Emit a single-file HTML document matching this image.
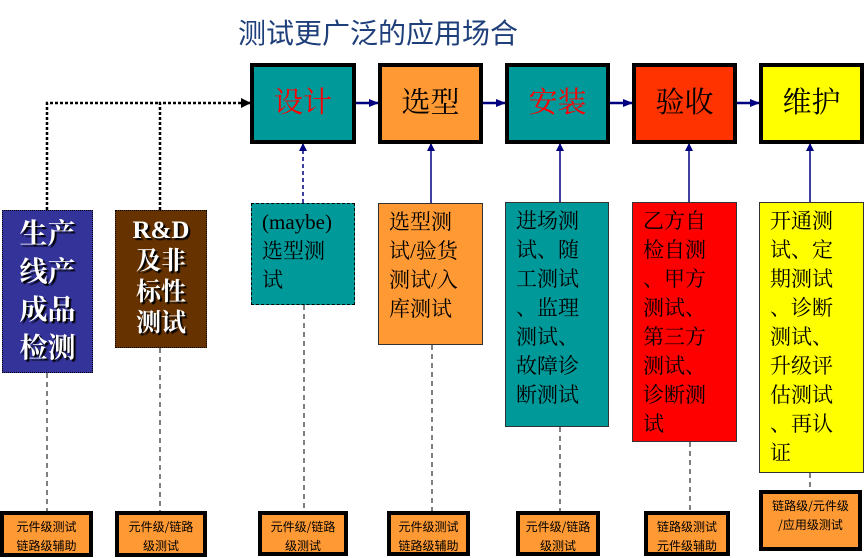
<!DOCTYPE html>
<html><head><meta charset="utf-8"><style>
body{margin:0;width:865px;height:558px;background:#fff;position:relative;overflow:hidden;font-family:"Liberation Serif","Noto Serif CJK SC","Noto Sans CJK SC",serif}
.a{position:absolute;box-sizing:border-box}
.m{border:4px solid #000;text-align:center;font-size:29px;line-height:72px}
.l{border:1px solid #333;font-size:21px;line-height:29px;padding:4px 0 0 10px}
.b{border:4px solid #000;background:#f93;font-family:"Noto Sans CJK SC",sans-serif;font-size:12px;line-height:19px;text-align:center;padding-top:2px}
.sh{color:#fff;text-shadow:2px 2px 1px #000;font-weight:bold;text-align:center;border:1px dotted #000}
svg{position:absolute;left:0;top:0}
</style></head><body>
<div class="a" style="left:238px;top:12px;font-size:28px;color:#1f3f7a;font-family:'Noto Sans CJK SC',sans-serif">测试更广泛的应用场合</div>
<svg width="865" height="558">
<defs><marker id="ah" markerUnits="userSpaceOnUse" markerWidth="10" markerHeight="10" refX="9" refY="5" orient="auto"><path d="M0,1L10,5L0,9z" fill="#000080"/></marker>
<marker id="sh" markerUnits="userSpaceOnUse" markerWidth="8" markerHeight="8" refX="7" refY="4" orient="auto"><path d="M0,0L8,4L0,8z" fill="#000080"/></marker>
<marker id="bh" markerUnits="userSpaceOnUse" markerWidth="10" markerHeight="10" refX="9" refY="5" orient="auto"><path d="M0,0L10,5L0,10z" fill="#000"/></marker></defs>
<g stroke="#000080" stroke-width="2.5" marker-end="url(#ah)">
<line x1="356" y1="103" x2="378" y2="103"/><line x1="483" y1="103" x2="505" y2="103"/>
<line x1="610" y1="103" x2="632" y2="103"/><line x1="737" y1="103" x2="759" y2="103"/></g>
<g stroke="#000080" stroke-width="1.5" marker-end="url(#sh)">
<line x1="303" y1="203" x2="303" y2="144" stroke-dasharray="4,3"/>
<line x1="431" y1="203" x2="431" y2="144"/><line x1="560" y1="202" x2="560" y2="144"/>
<line x1="689" y1="202" x2="689" y2="144"/><line x1="810" y1="202" x2="810" y2="144"/></g>
<g stroke="#000" stroke-width="2.5" stroke-dasharray="3,2" fill="none">
<path d="M47,210V103H160"/><path d="M160,210V103H250" marker-end="url(#bh)"/></g>
<g stroke="#000" stroke-width="1" stroke-dasharray="5,4">
<line x1="47" y1="373" x2="47" y2="511"/><line x1="160" y1="348" x2="160" y2="511"/>
<line x1="304" y1="305" x2="304" y2="511"/><line x1="432" y1="345" x2="432" y2="511"/>
<line x1="560" y1="427" x2="560" y2="511"/><line x1="690" y1="442" x2="690" y2="511"/>
<line x1="810" y1="473" x2="810" y2="490"/></g>
</svg>
<div class="a m" style="left:250px;top:63px;width:106px;height:81px;background:#099;color:#f00">设计</div>
<div class="a m" style="left:378px;top:63px;width:105px;height:81px;background:#f93">选型</div>
<div class="a m" style="left:505px;top:63px;width:105px;height:81px;background:#099;color:#f00">安装</div>
<div class="a m" style="left:632px;top:63px;width:105px;height:81px;background:#f30">验收</div>
<div class="a m" style="left:759px;top:63px;width:105px;height:81px;background:#ff0">维护</div>
<div class="a sh" style="left:2px;top:210px;width:91px;height:163px;background:#339;padding-top:5px;font-size:28px;line-height:38px">生产<br>线产<br>成品<br>检测</div>
<div class="a sh" style="left:115px;top:210px;width:92px;height:138px;background:#630;padding-top:4px;font-size:25px;line-height:31px">R&amp;D<br>及非<br>标性<br>测试</div>
<div class="a l" style="left:251px;top:203px;width:104px;height:102px;background:#099;border:1px dashed #000">(maybe)<br>选型测<br>试</div>
<div class="a l" style="left:378px;top:203px;width:105px;height:142px;background:#f93">选型测<br>试/验货<br>测试/入<br>库测试</div>
<div class="a l" style="left:505px;top:202px;width:104px;height:225px;background:#099">进场测<br>试、随<br>工测试<br>、监理<br>测试、<br>故障诊<br>断测试</div>
<div class="a l" style="left:632px;top:202px;width:105px;height:240px;background:#f00">乙方自<br>检自测<br>、甲方<br>测试、<br>第三方<br>测试、<br>诊断测<br>试</div>
<div class="a l" style="left:759px;top:202px;width:105px;height:271px;background:#ff0">开通测<br>试、定<br>期测试<br>、诊断<br>测试、<br>升级评<br>估测试<br>、再认<br>证</div>
<div class="a b" style="left:0;top:511px;width:93px;height:46px">元件级测试<br>链路级辅助</div>
<div class="a b" style="left:115px;top:511px;width:92px;height:46px">元件级/链路<br>级测试</div>
<div class="a b" style="left:258px;top:511px;width:90px;height:45px">元件级/链路<br>级测试</div>
<div class="a b" style="left:387px;top:511px;width:83px;height:45px">元件级测试<br>链路级辅助</div>
<div class="a b" style="left:516px;top:511px;width:84px;height:45px">元件级/链路<br>级测试</div>
<div class="a b" style="left:644px;top:511px;width:86px;height:45px">链路级测试<br>元件级辅助</div>
<div class="a b" style="left:759px;top:490px;width:103px;height:61px">链路级/元件级<br>/应用级测试</div>
</body></html>
